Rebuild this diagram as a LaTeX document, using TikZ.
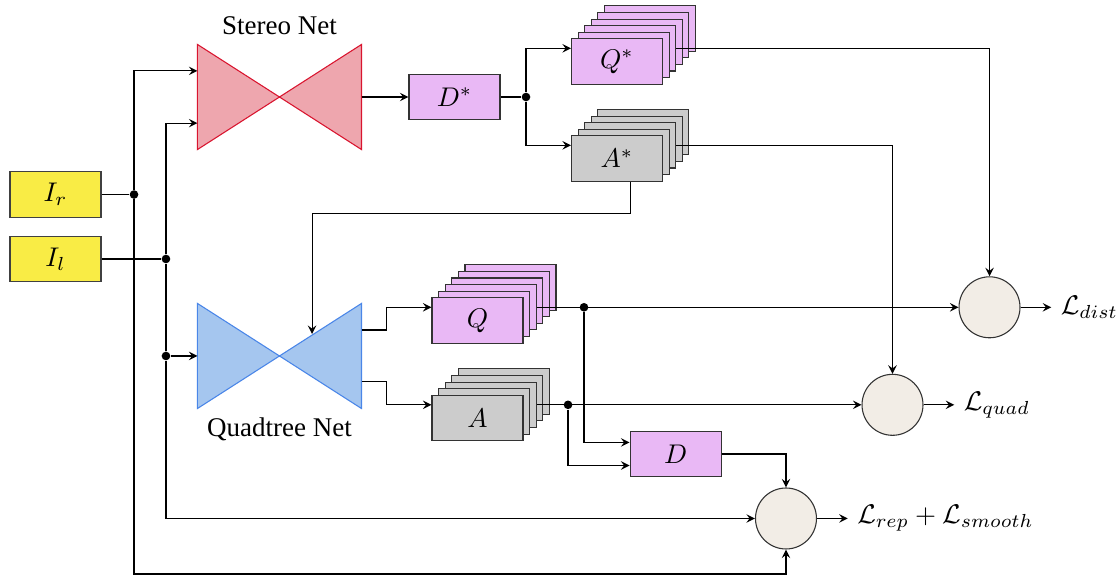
\documentclass[tikz,border=0pt]{standalone}
\usepackage{fontspec}
\setmainfont{Liberation Serif}
\usetikzlibrary{positioning}

\definecolor{inyellow}{HTML}{F9EC45}
\definecolor{stereofill}{HTML}{EEA6AE}
\definecolor{stereodraw}{HTML}{D9152F}
\definecolor{quadfill}{HTML}{A5C6EF}
\definecolor{quaddraw}{HTML}{4A86E8}
\definecolor{mapviolet}{HTML}{E9B8F5}
\definecolor{mapgray}{HTML}{CCCCCC}
\definecolor{lossfill}{HTML}{F2EDE6}

\tikzset{
  inbox/.style={rectangle, draw=black!75, fill=inyellow, minimum width=1.185cm, minimum height=0.59cm},
  qbox/.style={rectangle, draw=black!80, fill=mapviolet, minimum width=1.185cm, minimum height=0.59cm},
  abox/.style={rectangle, draw=black!80, fill=mapgray, minimum width=1.185cm, minimum height=0.59cm},
  netbox/.style={rectangle, minimum width=2.122cm, minimum height=1.354cm, inner sep=0pt},
  loss/.style={circle, draw=black!80, fill=lossfill, minimum size=0.794cm, inner sep=0pt},
  dot/.style={circle, fill=black, inner sep=0pt, minimum size=3.2pt}
}

\begin{document}
\begin{tikzpicture}[>=stealth]
\useasboundingbox (0,0) rectangle (14.583,7.513);

% Define nodes
\node[inbox] (ir) at (0.723,4.980) {$I_r$};
\node[inbox] (il) at (0.723,4.141) {$I_l$};
\node[netbox] (stereo) at (3.639,6.25) {};
\node[netbox] (quad) at (3.639,2.878) {};
\node[above=0pt of stereo] (stereolab) {Stereo Net};
\node[below=0pt of quad] (quadlab) {Quadtree Net};
\coordinate (qtin) at (4.063,3.164);

% Bow ties
\filldraw[draw=stereodraw, fill=stereofill]
  (stereo.north west) -- (stereo.center) -- (stereo.south west) -- cycle
  (stereo.north east) -- (stereo.center) -- (stereo.south east) -- cycle;
\filldraw[draw=quaddraw, fill=quadfill]
  (quad.north west) -- (quad.center) -- (quad.south west) -- cycle
  (quad.north east) -- (quad.center) -- (quad.south east) -- cycle;

\node[qbox] (ds) at (5.918,6.25) {$D^*$};

% Stacks of maps
\coordinate (qspos) at (8.034,6.712);
\coordinate (aspos) at (8.034,5.449);
\coordinate (qqpos) at (6.217,3.340);
\coordinate (aapos) at (6.217,2.070);
\foreach \i in {5,4,...,1}
  \node[qbox] (qs\i) at ([shift={(\i*0.086,\i*0.086)}]qspos) {};
\node[qbox] (qs) at (qspos) {$Q^*$};
\foreach \i in {4,3,...,1}
  \node[abox] (as\i) at ([shift={(\i*0.086,\i*0.086)}]aspos) {};
\node[abox] (as) at (aspos) {$A^*$};
\foreach \i in {5,4,...,1}
  \node[qbox] (qq\i) at ([shift={(\i*0.086,\i*0.086)}]qqpos) {};
\node[qbox] (qq) at (qqpos) {$Q$};
\foreach \i in {4,3,...,1}
  \node[abox] (aa\i) at ([shift={(\i*0.086,\i*0.086)}]aapos) {};
\node[abox] (aa) at (aapos) {$A$};

\node[qbox] (d) at (8.796,1.602) {$D$};

% Losses
\node[loss] (ldist) at (12.884,3.512) {};
\node[loss] (lquad) at (11.621,2.242) {};
\node[loss] (lrep) at (10.234,0.762) {};
\node[right=0.4cm of ldist] (ldistlab) {$\mathcal{L}_{dist}$};
\node[right=0.4cm of lquad] (lquadlab) {$\mathcal{L}_{quad}$};
\node[right=0.4cm of lrep] (lreplab) {$\mathcal{L}_{rep}+\mathcal{L}_{smooth}$};

% Junctions
\node[dot] (rdot) at (1.745,4.980) {};
\node[dot] (ldot) at (2.161,4.141) {};
\node[dot] (qtdot) at (2.161,2.878) {};
\node[dot] (dsdot) at (6.849,6.25) {};
\node[dot] (qdot) at (7.604,3.512) {};
\node[dot] (adot) at (7.396,2.242) {};

% Draw edges
\draw (ir) -- (rdot);
\draw (il) -- (ldot);
\draw[->] (rdot) |- ([yshift=0.34cm]stereo.west);
\draw[->] (ldot) |- ([yshift=-0.34cm]stereo.west);
\draw (ldot) -- (qtdot);
\draw[->] (qtdot) -- (quad.west);
\draw[->] (qtdot) |- (lrep.west);
\draw[->] (rdot) -- (rdot |- 0,0.039) -| (lrep.south);

\draw[->] (stereo) -- (ds);
\draw (ds) -- (dsdot);
\draw[->] (dsdot) |- (qs.west |- qs2);
\draw[->] (dsdot) |- (as.west |- as2);
\draw[->] (qs2.east) -| (ldist.north);
\draw[->] (as2.east) -| (lquad.north);
\draw[->] (as.south -| as2) -- ++(0,-0.416) -| (qtin);

\draw[->] ([yshift=0.338cm]quad.east) -- ++(0.325,0) |- (qq.west |- qq2);
\draw[->] ([yshift=-0.338cm]quad.east) -- ++(0.325,0) |- (aa.west |- aa2);
\draw[->] (qq2.east) -- (ldist.west);
\draw[->] (aa2.east) -- (lquad.west);
\draw[->] (qdot) |- ([yshift=0.15cm]d.west);
\draw[->] (adot) |- ([yshift=-0.15cm]d.west);
\draw[->] (d.east) -| (lrep.north);

\draw[->] (ldist) -- (ldistlab);
\draw[->] (lquad) -- (lquadlab);
\draw[->] (lrep) -- (lreplab);
\end{tikzpicture}
\end{document}
